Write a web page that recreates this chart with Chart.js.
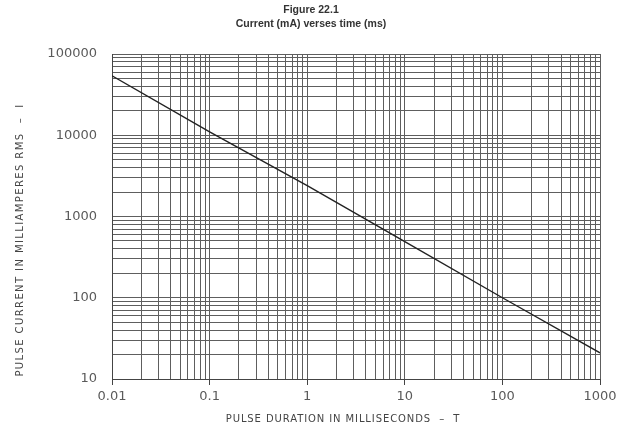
<!DOCTYPE html>
<html>
<head>
<meta charset="utf-8">
<script src="https://cdn.jsdelivr.net/npm/chart.js@4.4.1/dist/chart.umd.min.js"></script>
<style>
  html, body { margin: 0; padding: 0; background: #fff; }
  #wrap { width: 628px; height: 433px; }
</style>
</head>
<body>
<div id="wrap"><canvas id="pulseChart" width="628" height="433"></canvas></div>
<script>
// values
const durations = [0.01, 0.1, 1, 10, 100, 1000];       // ms
const currents = [54000, 11000, 2400, 490, 100, 21];    // mA rms
const xTickLabels = ["0.01", "0.1", "1", "10", "100", "1000"];
const yTickLabels = ["10", "100", "1000", "10000", "100000"];

const titleLines = ["Figure 22.1", "Current (mA) verses time (ms)"];
const xTitle = "PULSE DURATION IN MILLISECONDS  \u2013  T";
const yTitle = "PULSE CURRENT IN MILLIAMPERES RMS  \u2013  I";

function isDecade(v) {
  const l = Math.log10(v);
  return Math.abs(l - Math.round(l)) < 1e-6;
}

// 1..9 grid lines per decade, like log paper
function logPaperTicks(labels) {
  return function (scale) {
    const decades = labels.map(Number);
    const ticks = [];
    decades.forEach((d, i) => {
      if (i === decades.length - 1) {
        ticks.push({ value: d, major: true });
        return;
      }
      for (let k = 1; k <= 9; k++) {
        ticks.push({ value: +(d * k).toPrecision(6), major: k === 1 });
      }
    });
    scale.ticks = ticks;
  };
}

function labelFor(labels) {
  return function (value) {
    if (!isDecade(value)) return "";
    const hit = labels.find(l => Math.abs(Number(l) - value) < value * 1e-6);
    return hit || "";
  };
}

const textPlugin = {
  id: "paperText",
  afterDraw(chart) {
    const ctx = chart.ctx;
    ctx.save();
    ctx.fillStyle = "#333";
    ctx.textAlign = "center";
    ctx.textBaseline = "middle";
    ctx.font = "bold 10.5px 'Liberation Sans', Arial, sans-serif";
    ctx.fillText(titleLines[0], 311, 10);
    ctx.fillText(titleLines[1], 311, 24);

    ctx.fillStyle = "#444";
    ctx.font = "10px 'DejaVu Sans', sans-serif";
    ctx.letterSpacing = "0.9px";
    ctx.fillText(xTitle, 343, 419);

    ctx.letterSpacing = "1.4px";
    ctx.translate(20, 240);
    ctx.rotate(-Math.PI / 2);
    ctx.fillText(yTitle, 0, 0);
    ctx.restore();
  }
};

function createChart() {
  const ctx = document.getElementById("pulseChart").getContext("2d");
  new Chart(ctx, {
    type: "line",
    data: {
      datasets: [{
        data: durations.map((d, i) => ({ x: d, y: currents[i] })),
        borderColor: "#222",
        borderWidth: 1.4,
        pointRadius: 0,
        tension: 0,
        fill: false
      }]
    },
    options: {
      responsive: false,
      animation: false,
      layout: { padding: { left: 0, right: 28, top: 54, bottom: 0 } },
      plugins: {
        legend: { display: false },
        tooltip: { enabled: false }
      },
      scales: {
        x: {
          type: "logarithmic",
          min: 0.01,
          max: 1000,
          afterBuildTicks: logPaperTicks(xTickLabels),
          afterFit: s => { s.height = 54; },
          border: { color: "#444", width: 1 },
          grid: {
            color: "#5e5e5e",
            lineWidth: 1,
            tickLength: 6,
            tickColor: c => (c.tick && isDecade(c.tick.value)) ? "#444" : "rgba(0,0,0,0)"
          },
          ticks: {
            autoSkip: false,
            maxRotation: 0,
            padding: 4,
            color: "#5a5a5a",
            font: { family: "'DejaVu Sans', sans-serif", size: 13 },
            callback: labelFor(xTickLabels)
          }
        },
        y: {
          type: "logarithmic",
          min: 10,
          max: 100000,
          afterBuildTicks: logPaperTicks(yTickLabels),
          afterFit: s => { s.width = 112; },
          border: { color: "#444", width: 1 },
          grid: {
            color: "#5e5e5e",
            lineWidth: 1,
            drawTicks: false
          },
          ticks: {
            autoSkip: false,
            padding: 15,
            color: "#5a5a5a",
            font: { family: "'DejaVu Sans', sans-serif", size: 13 },
            callback: labelFor(yTickLabels)
          }
        }
      }
    },
    plugins: [textPlugin]
  });
}

window.addEventListener("load", createChart);
</script>
</body>
</html>
